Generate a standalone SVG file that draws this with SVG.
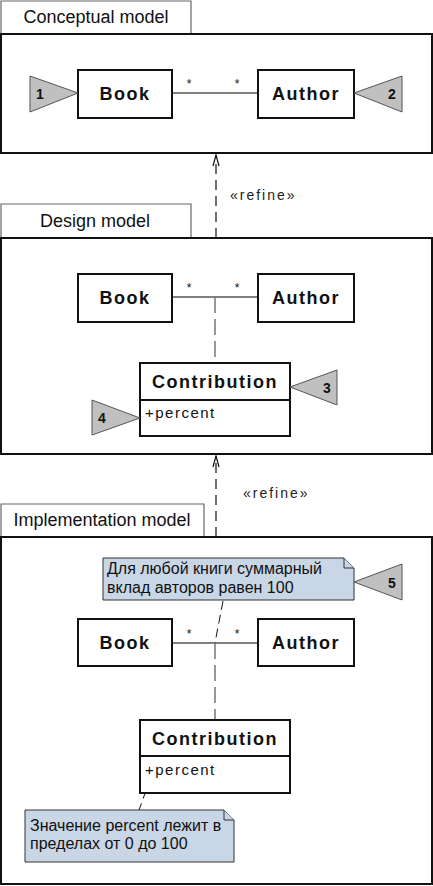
<svg xmlns="http://www.w3.org/2000/svg" width="433" height="886" viewBox="0 0 433 886">
<defs>
<style>
.frame{fill:#fff;stroke:#111;stroke-width:2}
.tab{fill:#fff;stroke:#666;stroke-width:1.2}
.tabt{font-family:"Liberation Sans",Arial,sans-serif;font-size:18px;fill:#111;text-anchor:middle}
.cls{fill:#fff;stroke:#111;stroke-width:2}
.name{font-family:"Liberation Sans",Arial,sans-serif;font-size:18px;font-weight:bold;letter-spacing:1.5px;fill:#111;text-anchor:middle}
.attr{font-family:"Liberation Sans",Arial,sans-serif;font-size:15px;letter-spacing:1.5px;fill:#111}
.mult{font-family:"Liberation Sans",Arial,sans-serif;font-size:12px;fill:#111;text-anchor:middle}
.tri{fill:#c0c0c0;stroke:#555;stroke-width:1}
.num{font-family:"Liberation Sans",Arial,sans-serif;font-size:14px;font-weight:bold;fill:#111;text-anchor:middle}
.assoc{stroke:#555;stroke-width:1.3;fill:none}
.aclass{stroke:#777;stroke-width:1.5;fill:none;stroke-dasharray:16,6}
.dep{stroke:#111;stroke-width:1.2;fill:none;stroke-dasharray:10,6}
.ahead{stroke:#111;stroke-width:1.2;fill:none}
.ster{font-family:"Liberation Sans",Arial,sans-serif;font-size:14px;letter-spacing:2px;fill:#222}
.note{fill:#c9d6e6;stroke:#333;stroke-width:1}
.notet{font-family:"Liberation Sans","Noto Sans",sans-serif;font-size:16px;fill:#111}
.anchor{stroke:#111;stroke-width:1;fill:none;stroke-dasharray:9,5}
</style>
</defs>

<g id="conceptual-model">
<path class="tab" d="M1,34 V1 H191 V34"/>
<text class="tabt" x="96" y="23">Conceptual model</text>
<rect class="frame" x="1" y="34" width="431" height="119"/>
</g>
<g id="design-model">
<path class="tab" d="M1,238 V204 H191 V238"/>
<text class="tabt" x="95" y="227">Design model</text>
<rect class="frame" x="1" y="238" width="431" height="216"/>
</g>
<g id="implementation-model">
<path class="tab" d="M1,537 V504 H204 V537"/>
<text class="tabt" x="102" y="526">Implementation model</text>
<rect class="frame" x="1" y="537" width="431" height="347"/>
</g>

<g id="connectors">
<line class="assoc" x1="172" y1="93" x2="258" y2="93"/>
<text class="mult" x="189" y="88">*</text>
<text class="mult" x="237" y="88">*</text>
<line class="dep" x1="216" y1="238" x2="216" y2="155"/>
<path class="ahead" d="M213,166 L216,155 L219,166"/>
<text class="ster" x="230" y="200">«refine»</text>
<line class="assoc" x1="172" y1="297" x2="258" y2="297"/>
<text class="mult" x="189" y="292">*</text>
<text class="mult" x="237" y="292">*</text>
<line class="aclass" x1="215" y1="297" x2="215" y2="363"/>
<line class="dep" x1="216" y1="537" x2="216" y2="456"/>
<path class="ahead" d="M213,467 L216,456 L219,467"/>
<text class="ster" x="243" y="498">«refine»</text>
<line class="assoc" x1="172" y1="643" x2="258" y2="643"/>
<text class="mult" x="189" y="638">*</text>
<text class="mult" x="237" y="638">*</text>
<line class="aclass" x1="215" y1="643" x2="215" y2="720"/>
<line class="anchor" x1="223" y1="601" x2="215" y2="643"/>
<line class="anchor" x1="151" y1="777" x2="139" y2="810"/>
</g>

<g id="c-book"><rect class="cls" x="78" y="70" width="94" height="48"/><text class="name" x="125" y="100">Book</text></g>
<g id="c-author"><rect class="cls" x="258" y="70" width="96" height="48"/><text class="name" x="306" y="100">Author</text></g>
<g id="marker-1"><polygon class="tri" points="30,76 78,93 30,112"/><text class="num" x="40" y="99">1</text></g>
<g id="marker-2"><polygon class="tri" points="402,76 354,93 402,112"/><text class="num" x="392" y="99">2</text></g>

<g id="d-book"><rect class="cls" x="78" y="274" width="94" height="48"/><text class="name" x="125" y="304">Book</text></g>
<g id="d-author"><rect class="cls" x="258" y="274" width="96" height="48"/><text class="name" x="306" y="304">Author</text></g>
<g id="d-contribution">
<rect class="cls" x="140" y="363" width="150" height="73"/>
<line class="cls" x1="140" y1="400" x2="290" y2="400"/>
<text class="name" x="215" y="388">Contribution</text>
<text class="attr" x="145" y="418">+percent</text>
</g>
<g id="marker-3"><polygon class="tri" points="337,370 290,387 337,405"/><text class="num" x="327" y="393">3</text></g>
<g id="marker-4"><polygon class="tri" points="92,400 140,418 92,435"/><text class="num" x="102" y="423">4</text></g>

<g id="note-1">
<path class="note" d="M103,558 H344 L354,568 V600 H103 Z"/>
<path class="note" d="M344,558 V568 H354"/>
<text class="notet" x="107" y="574">Для любой книги суммарный</text>
<text class="notet" x="107" y="593">вклад авторов равен 100</text>
</g>
<g id="marker-5"><polygon class="tri" points="402,564 354,582 402,600"/><text class="num" x="392" y="588">5</text></g>
<g id="i-book"><rect class="cls" x="78" y="619" width="94" height="47"/><text class="name" x="125" y="649">Book</text></g>
<g id="i-author"><rect class="cls" x="258" y="619" width="96" height="47"/><text class="name" x="306" y="649">Author</text></g>
<g id="i-contribution">
<rect class="cls" x="140" y="720" width="150" height="73"/>
<line class="cls" x1="140" y1="756" x2="290" y2="756"/>
<text class="name" x="215" y="745">Contribution</text>
<text class="attr" x="145" y="775">+percent</text>
</g>
<g id="note-2">
<path class="note" d="M25,810 H224 L234,820 V862 H25 Z"/>
<path class="note" d="M224,810 V820 H234"/>
<text class="notet" x="30" y="831">Значение percent лежит в</text>
<text class="notet" x="30" y="849">пределах от 0 до 100</text>
</g>
</svg>
